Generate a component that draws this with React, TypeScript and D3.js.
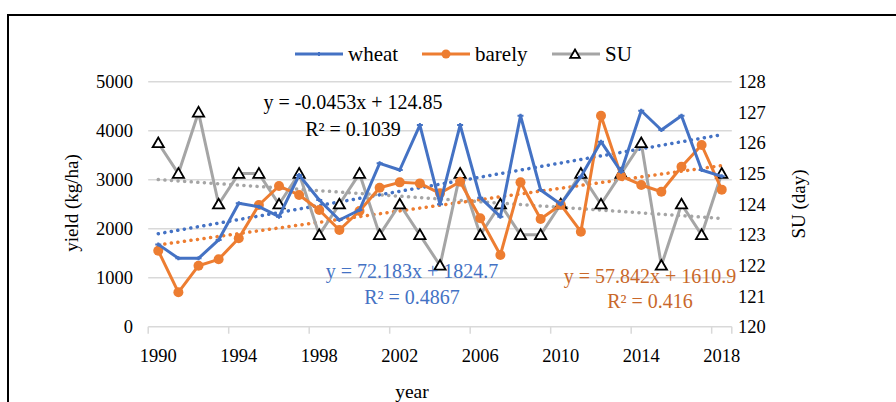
import React, { useEffect, useRef } from 'react';
import * as d3 from 'd3';

// values
const years = d3.range(1990, 2019);
const wheat = [
  1680, 1395, 1395, 1770, 2518, 2450, 2245, 3096, 2586, 2178, 2382, 3334, 3198, 4116, 2500,
  4116, 2633, 2245, 4306, 2790, 2500, 3061, 3776, 3163, 4408, 4014, 4306, 3198, 3068,
];
const barley = [
  1550, 702, 1245, 1375, 1804, 2484, 2871, 2688, 2382, 1973, 2361, 2837, 2946, 2925, 2722,
  2959, 2212, 1463, 2946, 2198, 2490, 1939, 4306, 3075, 2892, 2755, 3265, 3708, 2797,
];
const su = [
  126, 125, 127, 124, 125, 125, 124, 125, 123, 124, 125, 123, 124, 123, 122,
  125, 123, 124, 123, 123, 124, 125, 124, 125, 126, 122, 124, 123, 125,
];
const yieldTicks = [0, 1000, 2000, 3000, 4000, 5000];
const suTicks = [120, 121, 122, 123, 124, 125, 126, 127, 128];
const yearLabels = [1990, 1994, 1998, 2002, 2006, 2010, 2014, 2018];

// trend line equations as printed on the chart (x = 1..29)
const wheatTrend = { slope: 72.183, intercept: 1824.7, r2: '0.4867' };
const barleyTrend = { slope: 57.842, intercept: 1610.9, r2: '0.416' };
const suTrend = { slope: -0.0453, intercept: 124.85, r2: '0.1039' };

const BLUE = '#4472C4';
const ORANGE = '#ED7D31';
const GRAY = '#A5A5A5';
const FONT = '"Liberation Serif", "Times New Roman", serif';

const App = () => {
  const svgRef = useRef(null);

  useEffect(() => {
    document.body.style.margin = '0';
    const svg = d3.select(svgRef.current);
    svg.selectAll('*').remove();

    const x = d3.scaleBand<number>().domain(years).range([148.2, 731.8]).paddingInner(0).paddingOuter(0);
    const cx = (yr: number) => (x(yr) as number) + x.bandwidth() / 2;
    const yL = d3.scaleLinear().domain([0, 5000]).range([326.7, 81.7]);
    const yR = d3.scaleLinear().domain([120, 128]).range([326.7, 81.7]);

    // frame
    svg.append('rect')
      .attr('x', 8).attr('y', 15).attr('width', 900).attr('height', 400)
      .attr('fill', 'none').attr('stroke', '#000').attr('stroke-width', 2);

    // gridlines
    svg.append('g')
      .selectAll('line')
      .data(yieldTicks.slice(1))
      .join('line')
      .attr('x1', 148.2).attr('x2', 731.8)
      .attr('y1', (d) => yL(d)).attr('y2', (d) => yL(d))
      .attr('stroke', '#D9D9D9').attr('stroke-width', 1.5);

    // x axis line + ticks at category boundaries
    const ax = svg.append('g');
    ax.append('line')
      .attr('x1', 148.2).attr('x2', 731.8)
      .attr('y1', yL(0)).attr('y2', yL(0))
      .attr('stroke', '#D9D9D9').attr('stroke-width', 1.5);
    const boundaries = yearLabels.map((yr) => x(yr) as number).concat([731.8]);
    ax.selectAll('line.tick')
      .data(boundaries)
      .join('line')
      .attr('class', 'tick')
      .attr('x1', (d) => d).attr('x2', (d) => d)
      .attr('y1', yL(0)).attr('y2', yL(0) + 7)
      .attr('stroke', '#D9D9D9').attr('stroke-width', 1.5);
    ax.selectAll('text')
      .data(yearLabels)
      .join('text')
      .attr('x', (d) => cx(d)).attr('y', 362)
      .attr('text-anchor', 'middle')
      .attr('font-family', FONT).attr('font-size', 18.5)
      .text((d) => d);

    // left / right tick labels
    svg.append('g')
      .selectAll('text')
      .data(yieldTicks)
      .join('text')
      .attr('x', 133).attr('y', (d) => yL(d) + 6.5)
      .attr('text-anchor', 'end')
      .attr('font-family', FONT).attr('font-size', 18.5)
      .text((d) => d);
    svg.append('g')
      .selectAll('text')
      .data(suTicks)
      .join('text')
      .attr('x', 738).attr('y', (d) => yR(d) + 6.5)
      .attr('text-anchor', 'start')
      .attr('font-family', FONT).attr('font-size', 18.5)
      .text((d) => d);

    // axis titles
    svg.append('text')
      .attr('transform', 'translate(78,203) rotate(-90)')
      .attr('text-anchor', 'middle')
      .attr('font-family', FONT).attr('font-size', 19)
      .text('yield (kg/ha)');
    svg.append('text')
      .attr('transform', 'translate(805,204) rotate(-90)')
      .attr('text-anchor', 'middle')
      .attr('font-family', FONT).attr('font-size', 19)
      .text('SU (day)');
    svg.append('text')
      .attr('x', 412).attr('y', 398)
      .attr('text-anchor', 'middle')
      .attr('font-family', FONT).attr('font-size', 19.5)
      .text('year');

    // trend lines (dotted)
    const trend = (t, scale) =>
      [years[0], years[years.length - 1]].map((yr) => [cx(yr), scale(t.slope * (yr - 1989) + t.intercept)]);
    const trends = [
      { t: suTrend, s: yR, c: GRAY },
      { t: barleyTrend, s: yL, c: ORANGE },
      { t: wheatTrend, s: yL, c: BLUE },
    ];
    svg.append('g')
      .selectAll('path')
      .data(trends)
      .join('path')
      .attr('d', (d) => d3.line()(trend(d.t, d.s) as [number, number][]))
      .attr('fill', 'none')
      .attr('stroke', (d) => d.c)
      .attr('stroke-width', 3.5)
      .attr('stroke-linecap', 'round')
      .attr('stroke-dasharray', '0.1 6.5');

    // series lines
    const series = [
      { vals: su, s: yR, c: GRAY, m: 'tri' },
      { vals: barley, s: yL, c: ORANGE, m: 'circle' },
      { vals: wheat, s: yL, c: BLUE, m: 'cross' },
    ];
    series.forEach((sr) => {
      const pts = sr.vals.map((v, i) => [cx(years[i]), sr.s(v)] as [number, number]);
      svg.append('path')
        .attr('d', d3.line()(pts))
        .attr('fill', 'none')
        .attr('stroke', sr.c)
        .attr('stroke-width', 3)
        .attr('stroke-linejoin', 'round');
      const g = svg.append('g');
      if (sr.m === 'circle') {
        g.selectAll('circle').data(pts).join('circle')
          .attr('cx', (d) => d[0]).attr('cy', (d) => d[1]).attr('r', 5)
          .attr('fill', ORANGE);
      } else if (sr.m === 'cross') {
        g.selectAll('path').data(pts).join('path')
          .attr('transform', (d) => `translate(${d[0]},${d[1]})`)
          .attr('d', 'M-3,0H3M0,-2V2')
          .attr('stroke', BLUE).attr('stroke-width', 2);
      } else {
        g.selectAll('path').data(pts).join('path')
          .attr('transform', (d) => `translate(${d[0]},${d[1] + 1})`)
          .attr('d', d3.symbol().type(d3.symbolTriangle).size(55)())
          .attr('fill', '#fff').attr('stroke', '#000').attr('stroke-width', 1.8);
      }
    });

    // trend equation labels
    const labels = [
      { x: 353, y: 109, text: `y = ${suTrend.slope}x + ${suTrend.intercept}`, c: '#000' },
      { x: 353, y: 136, text: `R² = ${suTrend.r2}`, c: '#000' },
      { x: 412, y: 278, text: `y = ${wheatTrend.slope}x + ${wheatTrend.intercept}`, c: BLUE },
      { x: 412, y: 304, text: `R² = ${wheatTrend.r2}`, c: BLUE },
      { x: 650, y: 283, text: `y = ${barleyTrend.slope}x + ${barleyTrend.intercept}`, c: '#C9682A' },
      { x: 650, y: 308, text: `R² = ${barleyTrend.r2}`, c: '#C9682A' },
    ];
    svg.append('g')
      .selectAll('text')
      .data(labels)
      .join('text')
      .attr('x', (d) => d.x).attr('y', (d) => d.y)
      .attr('text-anchor', 'middle')
      .attr('font-family', FONT).attr('font-size', 20)
      .attr('fill', (d) => d.c)
      .text((d) => d.text);

    // legend
    const legend = [
      { name: 'wheat', c: BLUE, m: 'cross', x: 295 },
      { name: 'barely', c: ORANGE, m: 'circle', x: 422 },
      { name: 'SU', c: GRAY, m: 'tri', x: 552 },
    ];
    const lg = svg.append('g');
    legend.forEach((l) => {
      lg.append('line')
        .attr('x1', l.x).attr('x2', l.x + 48)
        .attr('y1', 54).attr('y2', 54)
        .attr('stroke', l.c).attr('stroke-width', 3);
      if (l.m === 'circle') {
        lg.append('circle').attr('cx', l.x + 24).attr('cy', 54).attr('r', 4.5).attr('fill', l.c);
      } else if (l.m === 'cross') {
        lg.append('path').attr('transform', `translate(${l.x + 24},54)`)
          .attr('d', 'M-3,0H3M0,-2V2').attr('stroke', l.c).attr('stroke-width', 2);
      } else {
        lg.append('path').attr('transform', `translate(${l.x + 23},55)`)
          .attr('d', d3.symbol().type(d3.symbolTriangle).size(40)())
          .attr('fill', '#fff').attr('stroke', '#000').attr('stroke-width', 1.8);
      }
      lg.append('text')
        .attr('x', l.x + 53).attr('y', 61)
        .attr('font-family', FONT).attr('font-size', 21)
        .text(l.name);
    });
  }, []);

  return (
    <svg ref={svgRef} width={896} height={402} style={{ display: 'block' }} />
  );
};

export default App;
